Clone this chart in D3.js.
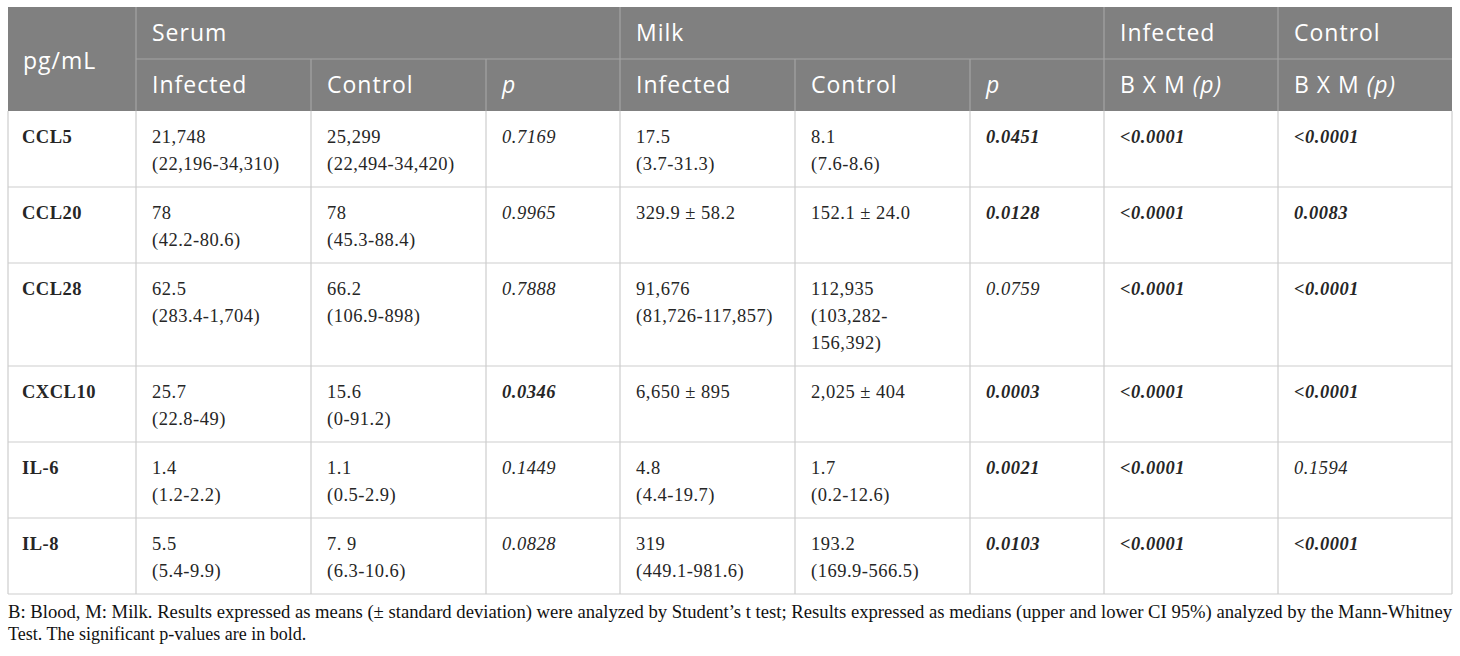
<!DOCTYPE html>
<html>
<head>
<meta charset="utf-8">
<script src="https://cdn.jsdelivr.net/npm/d3@7"></script>
<style>
  html, body { margin: 0; padding: 0; background: #fff; }
  svg { display: block; }
</style>
</head>
<body>
<div id="table-container"></div>
<script>
// ------------------------------------------------- Data -------------------------------------------------
const markers = ["CCL5", "CCL20", "CCL28", "CXCL10", "IL-6", "IL-8"];

const serumInfected = [
    ["21,748", "(22,196-34,310)"],
    ["78", "(42.2-80.6)"],
    ["62.5", "(283.4-1,704)"],
    ["25.7", "(22.8-49)"],
    ["1.4", "(1.2-2.2)"],
    ["5.5", "(5.4-9.9)"]
];
const serumControl = [
    ["25,299", "(22,494-34,420)"],
    ["78", "(45.3-88.4)"],
    ["66.2", "(106.9-898)"],
    ["15.6", "(0-91.2)"],
    ["1.1", "(0.5-2.9)"],
    ["7. 9", "(6.3-10.6)"]
];
const serumP = ["0.7169", "0.9965", "0.7888", "0.0346", "0.1449", "0.0828"];

const milkInfected = [
    ["17.5", "(3.7-31.3)"],
    ["329.9 ± 58.2"],
    ["91,676", "(81,726-117,857)"],
    ["6,650 ± 895"],
    ["4.8", "(4.4-19.7)"],
    ["319", "(449.1-981.6)"]
];
const milkControl = [
    ["8.1", "(7.6-8.6)"],
    ["152.1 ± 24.0"],
    ["112,935", "(103,282-", "156,392)"],
    ["2,025 ± 404"],
    ["1.7", "(0.2-12.6)"],
    ["193.2", "(169.9-566.5)"]
];
const milkP = ["0.0451", "0.0128", "0.0759", "0.0003", "0.0021", "0.0103"];

const bxmInfected = ["<0.0001", "<0.0001", "<0.0001", "<0.0001", "<0.0001", "<0.0001"];
const bxmControl = ["<0.0001", "0.0083", "<0.0001", "<0.0001", "0.1594", "<0.0001"];

const footnote = [
    "B: Blood, M: Milk. Results expressed as means (± standard deviation) were analyzed by Student’s t test; Results expressed as medians (upper and lower CI 95%) analyzed by the Mann-Whitney",
    "Test. The significant p-values are in bold."
];

// ------------------------------------------------- Layout -------------------------------------------------
const W = 1460, H = 656;
const tableLeft = 8, tableTop = 7;
const colWidths = [128, 175, 175, 134, 175, 175, 134, 174, 174];
const colEdges = [tableLeft, ...d3.cumsum(colWidths).map(v => v + tableLeft)];
const headRowH = 52;
const lineH = 27;
const rowH = n => 22 + lineH * n;

const headBg = "#808080";
const headLine = "#a3a3a3";
const gridLine = "#cdcdcd";
const bodyColor = "#262626";
const serif = "'Liberation Serif', 'DejaVu Serif', serif";
const sans = "'Open Sans', 'Noto Sans', sans-serif";

// Build table rows: each cell is {lines, italic, bold}
const isSig = p => p.startsWith("<") || parseFloat(p) < 0.05;
const pCell = p => ({ lines: [p], italic: true, bold: isSig(p) });
const valCell = lines => ({ lines, italic: false, bold: false });

const rows = markers.map((m, i) => [
    { lines: [m], italic: false, bold: true },
    valCell(serumInfected[i]),
    valCell(serumControl[i]),
    pCell(serumP[i]),
    valCell(milkInfected[i]),
    valCell(milkControl[i]),
    pCell(milkP[i]),
    pCell(bxmInfected[i]),
    pCell(bxmControl[i])
]);

const rowHeights = rows.map(r => rowH(d3.max(r, c => c.lines.length)));
const bodyTop = tableTop + 2 * headRowH;
const rowEdges = [bodyTop, ...d3.cumsum(rowHeights).map(v => v + bodyTop)];
const tableBottom = rowEdges[rowEdges.length - 1];

// ------------------------------------------------- SVG -------------------------------------------------
const svg = d3.select("#table-container")
    .append("svg")
    .attr("width", W)
    .attr("height", H);

svg.append("rect").attr("width", W).attr("height", H).attr("fill", "#fff");

// Header background
svg.append("rect")
    .attr("x", colEdges[0])
    .attr("y", tableTop)
    .attr("width", colEdges[9] - colEdges[0])
    .attr("height", 2 * headRowH)
    .attr("fill", headBg);

// Header grid lines
const hg = svg.append("g").attr("stroke", headLine).attr("stroke-width", 1.2);
hg.append("line") // split between header rows
    .attr("x1", colEdges[1]).attr("x2", colEdges[9])
    .attr("y1", tableTop + headRowH).attr("y2", tableTop + headRowH);
[1, 4, 7, 8].forEach(k => hg.append("line")
    .attr("x1", colEdges[k]).attr("x2", colEdges[k])
    .attr("y1", tableTop).attr("y2", tableTop + 2 * headRowH));
[2, 3, 5, 6].forEach(k => hg.append("line")
    .attr("x1", colEdges[k]).attr("x2", colEdges[k])
    .attr("y1", tableTop + headRowH).attr("y2", tableTop + 2 * headRowH));

// Header texts
const headTopRow = [
    { col: 1, text: "Serum" }, { col: 4, text: "Milk" },
    { col: 7, text: "Infected" }, { col: 8, text: "Control" }
];
const headSub = [
    { col: 1, parts: [["Infected", false]] },
    { col: 2, parts: [["Control", false]] },
    { col: 3, parts: [["p", true]] },
    { col: 4, parts: [["Infected", false]] },
    { col: 5, parts: [["Control", false]] },
    { col: 6, parts: [["p", true]] },
    { col: 7, parts: [["B X M ", false], ["(p)", true]] },
    { col: 8, parts: [["B X M ", false], ["(p)", true]] }
];
const headText = svg.append("g")
    .attr("fill", "#fff")
    .style("font-family", sans)
    .style("font-size", "23px")
    .style("letter-spacing", "1px");

headText.append("text")
    .attr("x", colEdges[0] + 15)
    .attr("y", tableTop + headRowH + 10)
    .text("pg/mL");

headText.selectAll(".h1").data(headTopRow).enter()
    .append("text")
    .attr("class", "h1")
    .attr("x", d => colEdges[d.col] + 16)
    .attr("y", tableTop + 34)
    .text(d => d.text);

headText.selectAll(".h2").data(headSub).enter()
    .append("text")
    .attr("class", "h2")
    .attr("x", d => colEdges[d.col] + 16)
    .attr("y", tableTop + headRowH + 34)
    .each(function (d) {
        d3.select(this).selectAll("tspan").data(d.parts).enter()
            .append("tspan")
            .style("font-style", p => p[1] ? "italic" : "normal")
            .text(p => p[0]);
    });

// Body grid
const bg = svg.append("g").attr("stroke", gridLine).attr("stroke-width", 1.2);
bg.selectAll(".hl").data(rowEdges.slice(1)).enter()
    .append("line")
    .attr("x1", colEdges[0]).attr("x2", colEdges[9])
    .attr("y1", d => d).attr("y2", d => d);
bg.selectAll(".vl").data(colEdges).enter()
    .append("line")
    .attr("x1", d => d).attr("x2", d => d)
    .attr("y1", bodyTop).attr("y2", tableBottom);

// Body cells
const body = svg.append("g")
    .attr("fill", bodyColor)
    .style("font-family", serif)
    .style("font-size", "18.5px")
    .style("letter-spacing", "0.5px");

rows.forEach((row, ri) => {
    row.forEach((cell, ci) => {
        const t = body.append("text")
            .style("font-weight", cell.bold ? "bold" : "normal")
            .style("font-style", cell.italic ? "italic" : "normal");
        t.selectAll("tspan").data(cell.lines).enter()
            .append("tspan")
            .attr("x", colEdges[ci] + (ci === 0 ? 14 : 16))
            .attr("y", (d, li) => rowEdges[ri] + 32 + li * lineH)
            .text(d => d);
    });
});

// Footnote
svg.append("g")
    .attr("fill", "#111")
    .style("font-family", serif)
    .style("font-size", "18px")
    .selectAll("text").data(footnote).enter()
    .append("text")
    .attr("x", colEdges[0])
    .attr("y", (d, i) => tableBottom + 24 + i * 22)
    .each(function (d, i) {
        if (i === 0) {
            d3.select(this).attr("textLength", colEdges[9] - colEdges[0]).attr("lengthAdjust", "spacingAndGlyphs");
        }
    })
    .text(d => d);
</script>
</body>
</html>
